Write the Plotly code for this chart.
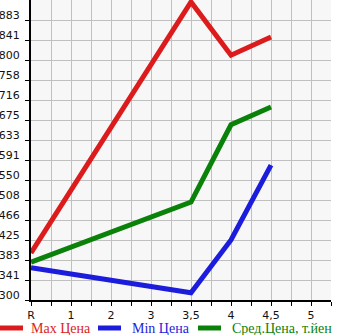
import plotly.graph_objects as go

categories = ["R", "1", "2", "3", "3,5", "4", "4,5", "5"]
cat_pos = [0, 1, 2, 3, 4, 5, 6, 7]
series_x = ["R", "3,5", "4", "4,5"]
max_price = [398, 921, 810, 848]
min_price = [367, 315, 425, 581]
avg_price = [379, 504, 665, 702]
y_ticks = [300, 341, 383, 425, 466, 508, 550, 591, 633, 675, 716, 758, 800, 841, 883]

names = ["Max Цена", "Min Цена", "Сред.Цена, т.йен"]
colors = ["#dc1c1c", "#1c1cdc", "#0a820a"]

pos_map = dict(zip(categories, cat_pos))
xs = [pos_map[c] for c in series_x]

fig = go.Figure()
for vals, name, col in zip([max_price, min_price, avg_price], names, colors):
    fig.add_trace(go.Scatter(x=xs, y=vals, mode="lines", name=name,
                             line=dict(color=col, width=5), showlegend=False))

y_top = 925
step = (y_top - 300) / 15
yvals = [300 + k * step for k in range(15)]
ytext = [str(v) for v in y_ticks]

xvals = [i * 0.5 for i in range(16)]
xtext = []
for v in xvals:
    if v == int(v) and int(v) < len(categories):
        xtext.append(categories[int(v)])
    else:
        xtext.append(" ")

# manual legend
legend_items = [(0, 29), (98, 130), (198, 230)]
for (lx, tx), name, col in zip(legend_items, names, colors):
    fig.add_shape(type="line", xref="paper", yref="paper",
                  x0=(lx - 31) / 300, x1=(lx + 23 - 31) / 300,
                  y0=-28 / 300, y1=-28 / 300,
                  line=dict(color=col, width=5))
    fig.add_annotation(text=name, xref="paper", yref="paper",
                       x=(tx - 31) / 300, y=-28 / 300, xanchor="left", yanchor="middle",
                       showarrow=False, font=dict(family="Liberation Serif", size=14, color=col))

fig.update_layout(
    width=345, height=335,
    margin=dict(l=31, r=14, t=0, b=35),
    paper_bgcolor="white", plot_bgcolor="#f7f7f7",
    font=dict(family="DejaVu Sans", size=11, color="#111111"),
    showlegend=False,
)
fig.update_xaxes(range=[0, 7.5], tickmode="array", tickvals=xvals, ticktext=xtext,
                 showgrid=True, gridcolor="#c0c0c0", gridwidth=1,
                 showline=True, linecolor="black", linewidth=2,
                 ticks="outside", ticklen=4, tickcolor="black", zeroline=False,
                 tickfont=dict(size=11), fixedrange=True)
fig.update_yaxes(range=[300, y_top], tickmode="array", tickvals=yvals, ticktext=ytext,
                 showgrid=True, gridcolor="#c0c0c0", gridwidth=1,
                 minor=dict(tickvals=[y_top], showgrid=True, gridcolor="#c0c0c0", gridwidth=1),
                 showline=True, linecolor="black", linewidth=2,
                 ticks="outside", ticklen=4, tickcolor="black", zeroline=False,
                 tickfont=dict(size=11), ticklabelshift=-5, ticklabelstandoff=3,
                 fixedrange=True)

fig.write_html("out.html", config={"displayModeBar": False})
